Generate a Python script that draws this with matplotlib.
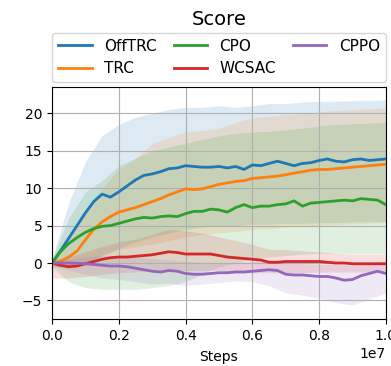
import numpy as np
import matplotlib
matplotlib.use("Agg")
import matplotlib.pyplot as plt

# steps (x 1e7) for the mean curves
steps = np.linspace(0, 1.0, 41) * 1e7

offtrc = [0.0, 1.6, 3.3, 5.0, 6.7, 8.2, 9.2, 8.8, 9.5, 10.3, 11.1, 11.7, 11.9, 12.2, 12.6, 12.7,
          13.0, 12.9, 12.8, 12.8, 12.9, 12.7, 12.9, 12.5, 13.1, 13.0, 13.3, 13.6, 13.3, 13.0,
          13.3, 13.4, 13.7, 13.9, 13.6, 13.5, 13.8, 13.9, 13.7, 13.8, 13.9]
trc = [0.0, 0.2, 0.8, 1.6, 3.1, 4.5, 5.5, 6.2, 6.8, 7.1, 7.4, 7.8, 8.2, 8.6, 9.1, 9.5,
       9.9, 9.8, 9.9, 10.2, 10.5, 10.7, 10.9, 11.0, 11.3, 11.4, 11.5, 11.6, 11.8, 12.0,
       12.2, 12.4, 12.5, 12.5, 12.6, 12.7, 12.8, 12.9, 13.0, 13.1, 13.2]
cpo = [0.0, 1.5, 2.6, 3.4, 4.1, 4.6, 4.9, 5.0, 5.3, 5.6, 5.9, 6.1, 6.0, 6.2, 6.3, 6.2,
       6.6, 6.9, 6.9, 7.2, 7.1, 6.8, 7.4, 7.8, 7.4, 7.6, 7.6, 7.8, 7.9, 8.3,
       7.6, 8.0, 8.1, 8.2, 8.3, 8.4, 8.3, 8.6, 8.5, 8.4, 7.8]
wcsac = [0.0, -0.3, -0.5, -0.4, -0.1, 0.2, 0.5, 0.7, 0.8, 0.8, 0.9, 1.0, 1.1, 1.3, 1.5, 1.4,
         1.2, 1.2, 1.2, 1.2, 1.0, 0.8, 0.7, 0.6, 0.5, 0.4, 0.1, 0.1, 0.2, 0.2,
         0.2, 0.2, 0.2, 0.1, 0.0, 0.0, -0.1, -0.1, -0.1, -0.1, -0.1]
cppo = [0.0, 0.0, 0.0, -0.05, -0.1, -0.2, -0.3, -0.4, -0.4, -0.5, -0.7, -0.9, -1.1, -1.2, -1.0, -1.1,
        -1.4, -1.5, -1.5, -1.4, -1.3, -1.3, -1.2, -1.2, -1.1, -1.0, -0.9, -1.0, -1.5, -1.6,
        -1.6, -1.7, -1.8, -1.8, -2.0, -2.3, -2.2, -1.7, -1.4, -1.1, -1.4]

# shaded ranges, coarser grid
band_steps = np.linspace(0, 1.0, 21) * 1e7
offtrc_hi = [0.5, 8, 13.5, 17, 18.5, 19.5, 20, 20.5, 20.8, 20.8, 21, 20.8, 21.0, 21.3, 21.3,
             21.5, 21.6, 21.6, 21.7, 21.7, 21.8]
offtrc_lo = [-0.5, -0.5, 0, 1, 2, 2.8, 3.5, 4, 4.5, 4.8, 5, 5, 5.2, 5.2, 5.3, 5.3, 5.4, 5.4, 5.5, 5.5, 5.5]
trc_hi = [0.3, 3, 7, 10, 12.5, 14, 16, 16.8, 17.5, 17.7, 18, 18.8, 19.4, 19.6, 19.8,
          20.0, 20.2, 20.4, 20.5, 20.6, 20.7]
trc_lo = [-0.3, -0.5, 0, 1, 1.8, 2.2, 2.5, 3, 3.5, 3.8, 4, 4.2, 4.5, 4.6, 4.8, 4.9, 5, 5.1, 5.2, 5.3, 5.5]
cpo_hi = [0.5, 6, 9.5, 11, 13, 14, 15, 15.5, 16, 16.5, 17, 17.3, 17.5, 17.6, 17.8,
          18, 18.3, 18.5, 18.6, 18.7, 18.8]
cpo_lo = [-0.5, -2.5, -3.3, -3.5, -3.5, -3.5, -3.3, -3, -2.5, -1.5, -0.5, 0, 0.5, 0.8, 1.0,
          1.2, 1.3, 1.3, 1.3, 1.3, 1.3]
wcsac_hi = [0.5, 0.8, 1.5, 2.2, 2.8, 3.2, 3.8, 4.5, 4.3, 4, 3.5, 3, 2.5, 1.8, 1.8,
            1.6, 1.5, 1.3, 1.2, 1.2, 1.2]
wcsac_lo = [-2, -2, -1.8, -1.5, -1.3, -1.2, -1, -1, -1, -1, -1, -1.2, -1.3, -1.3, -1.3,
            -1.3, -1.2, -1.2, -1.2, -1.2, -1.2]
cppo_hi = [0.2, 0.5, 0.8, 1.0, 1.0, 0.8, 0.6, 0.4, 0.2, 0.1, 0, 0.1, 0.2, 0.4, 0,
           -0.1, -0.2, -0.2, -0.3, 0, 0.3]
cppo_lo = [-0.3, -1, -1.5, -2, -2.2, -2.5, -2.8, -2.7, -3, -2.8, -2.6, -2.4, -2.5, -3.0, -4.0,
           -4.3, -4.7, -5.3, -5.6, -4.8, -4.0]

names = ['OffTRC', 'TRC', 'CPO', 'WCSAC', 'CPPO']
means = [offtrc, trc, cpo, wcsac, cppo]
highs = [offtrc_hi, trc_hi, cpo_hi, wcsac_hi, cppo_hi]
lows = [offtrc_lo, trc_lo, cpo_lo, wcsac_lo, cppo_lo]
colors = ['tab:blue', 'tab:orange', 'tab:green', 'tab:red', 'tab:purple']

fig = plt.figure(figsize=(3.91, 3.66), dpi=100)
ax = fig.add_axes([0.133, 0.128, 0.854, 0.634])

for name, m, hi, lo, c in zip(names, means, highs, lows, colors):
    ax.fill_between(band_steps, lo, hi, color=c, alpha=0.15, linewidth=0)
    ax.plot(steps, m, color=c, linewidth=2.0, label=name)

ax.set_xlim(0, 1e7)
ax.set_ylim(-7.5, 23.5)
ax.set_yticks([-5, 0, 5, 10, 15, 20])
ax.grid(True)
ax.tick_params(labelsize=10)
ax.set_xlabel('Steps', fontsize=10, labelpad=5)
ax.set_title('Score', fontsize=14, pad=45)
ax.legend(bbox_to_anchor=(0, 1.02, 1, 0.2), loc='lower left', mode='expand',
          ncol=3, borderaxespad=0, fontsize=11, handlelength=2.2)

plt.savefig('out.png', dpi=100)
